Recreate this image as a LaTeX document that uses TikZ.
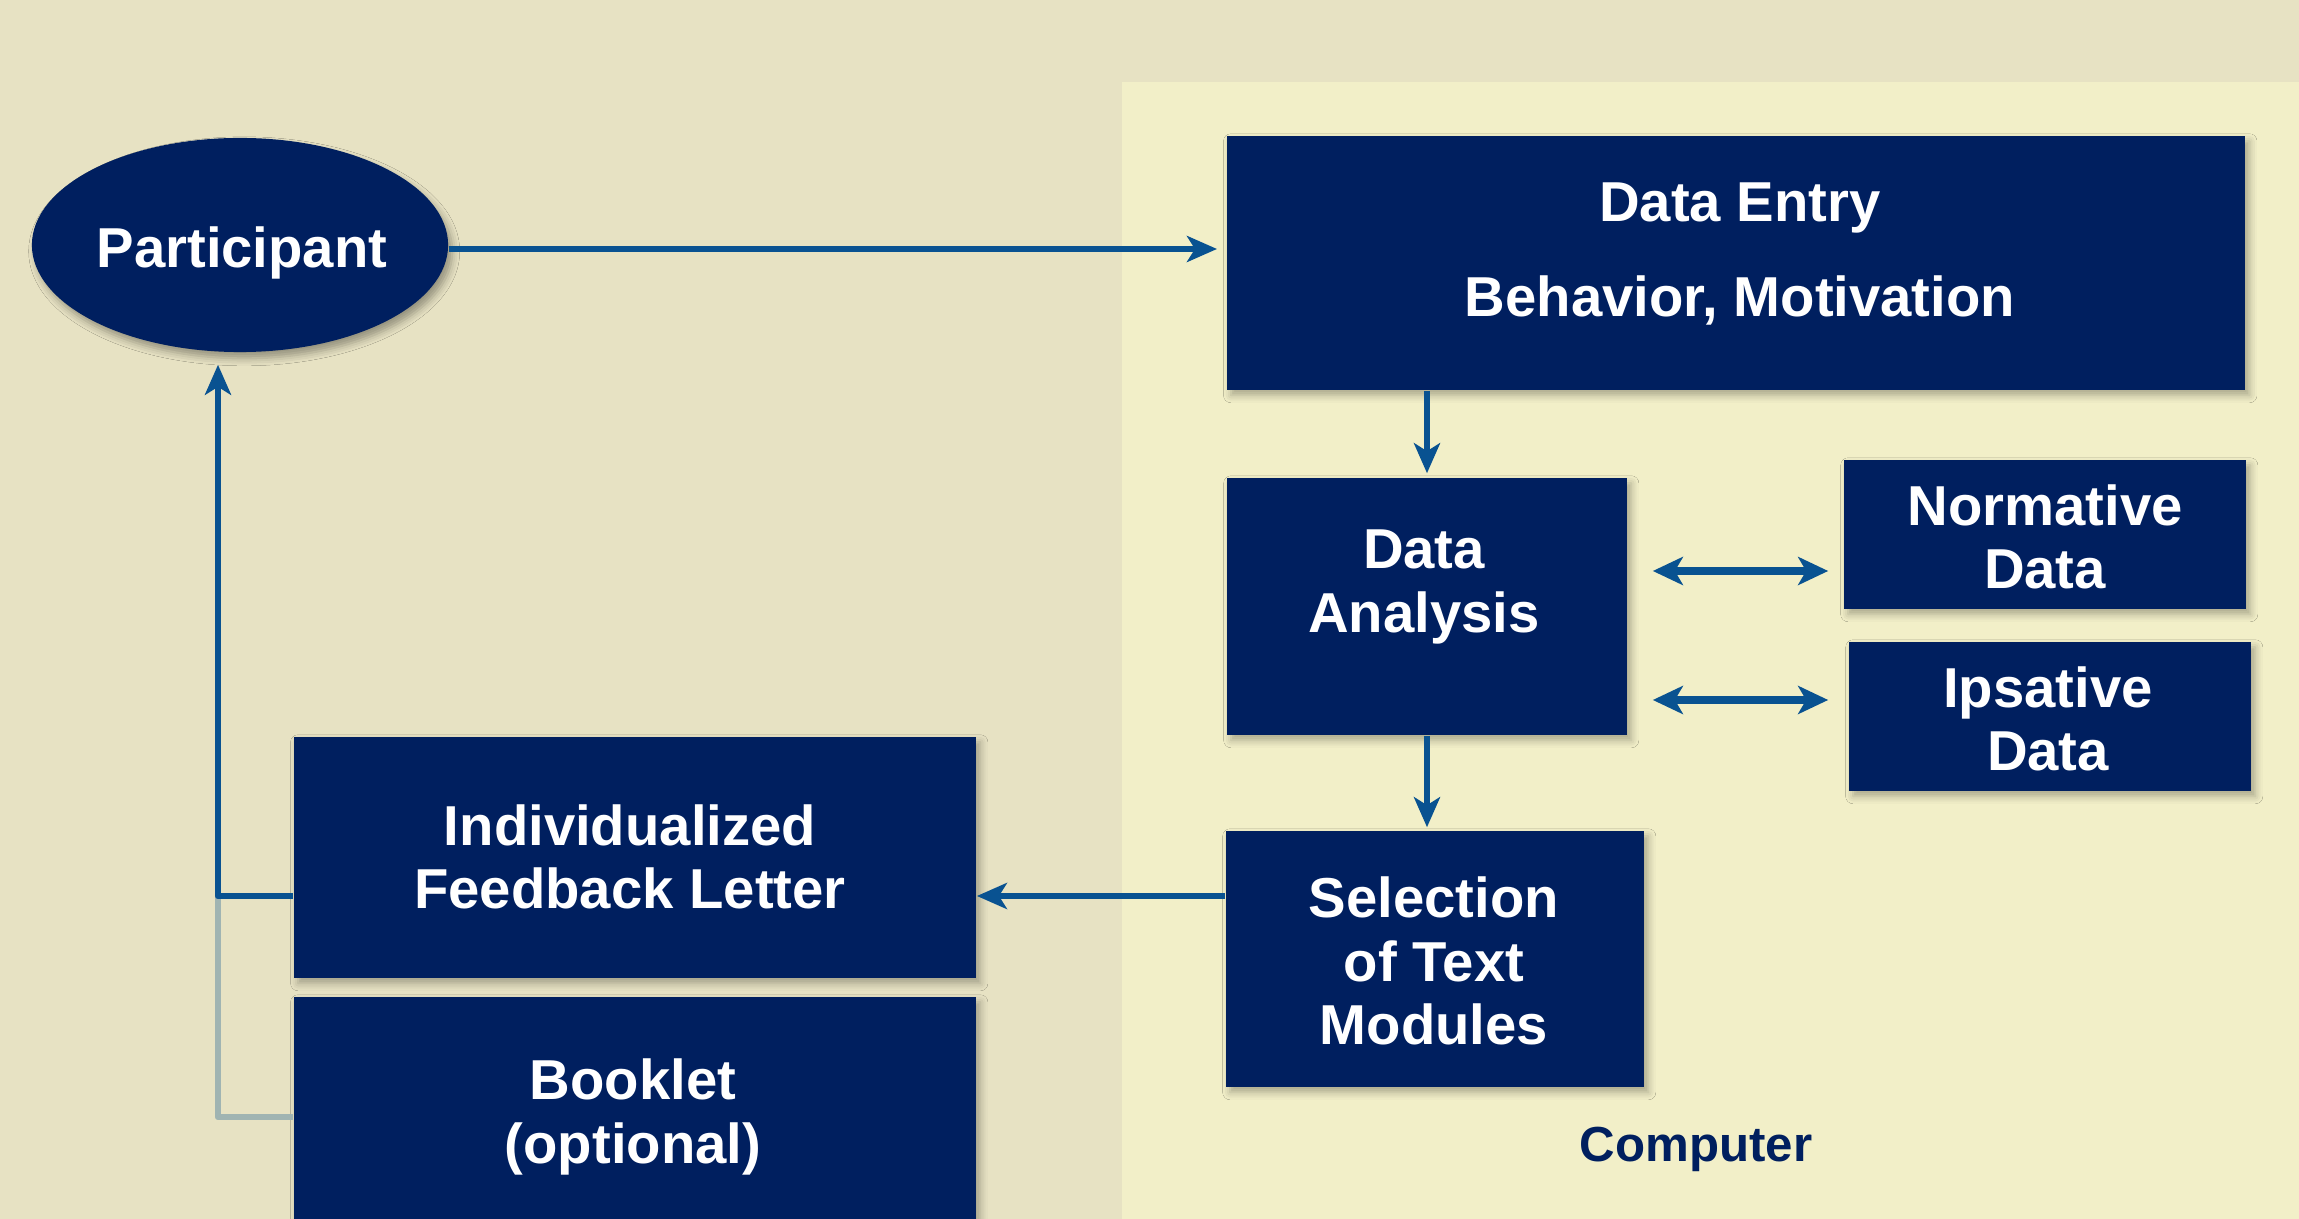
\documentclass[tikz,border=0pt]{standalone}
\usepackage{fontspec}
\setmainfont{Liberation Sans}
\usetikzlibrary{arrows.meta,shadows.blur,shapes.geometric}
\definecolor{bgleft}{RGB}{231,226,195}
\definecolor{bgright}{RGB}{242,239,200}
\definecolor{navy}{RGB}{0,31,95}
\definecolor{arrowblue}{RGB}{9,82,145}
\definecolor{greyline}{RGB}{160,180,178}
\tikzset{
  boxshape/.style={fill=navy, draw=none, rectangle, inner sep=0pt,
    blur shadow={shadow xshift=1.2pt, shadow yshift=-1.5pt, shadow blur steps=4, shadow opacity=30}},
  boxtext/.style={text=white, font=\fontsize{16}{18}\selectfont\bfseries, align=center, inner sep=0pt},
  flow/.style={draw=arrowblue, line width=1.8pt, -{Stealth[length=0.3cm,width=0.26cm,inset=0.08cm]}},
  twoway/.style={draw=arrowblue, line width=2.2pt,
    {Stealth[length=0.3cm,width=0.28cm,inset=0.08cm]}-{Stealth[length=0.3cm,width=0.28cm,inset=0.08cm]}},
  greyconn/.style={draw=greyline, line width=1.8pt},
}
\begin{document}
\begin{tikzpicture}[x=0.01cm,y=-0.01cm]
\useasboundingbox (0,0) rectangle (2299,1219);
\fill[bgleft] (0,0) rectangle (2299,1219);
\fill[bgright] (1122,82) rectangle (2299,1219);

% nodes
\node[ellipse, fill=navy, inner sep=0pt, minimum width=4.16cm, minimum height=2.14cm,
  blur shadow={shadow xshift=1.2pt, shadow yshift=-1.8pt, shadow blur steps=4, shadow opacity=35}] (part) at (240,245) {};
\node[boxtext] (partt) at (242,253) {Participant};

\node[boxshape, minimum width=10.18cm, minimum height=2.54cm] (de) at (1736,263) {};
\node[boxtext] (det) at (1740,254) {Data Entry\\[9pt]Behavior, Motivation};

\node[boxshape, minimum width=4.00cm, minimum height=2.57cm] (da) at (1427,606.5) {};
\node[boxtext] (dat) at (1424,587) {Data\\Analysis};

\node[boxshape, minimum width=4.02cm, minimum height=1.49cm] (norm) at (2045,534.5) {};
\node[boxtext] (normt) at (2045,537) {Normative\\Data};

\node[boxshape, minimum width=4.02cm, minimum height=1.49cm] (ips) at (2050,716.5) {};
\node[boxtext] (ipst) at (2048,719) {Ipsative\\Data};

\node[boxshape, minimum width=4.18cm, minimum height=2.56cm] (sel) at (1435,959) {};
\node[boxtext] (selt) at (1434,961) {Selection\\of Text\\Modules};

\node[boxshape, minimum width=6.82cm, minimum height=2.41cm] (fb) at (635,857.5) {};
\node[boxtext] (fbt) at (630,857) {Individualized\\Feedback Letter};

\node[boxshape, minimum width=6.82cm, minimum height=2.43cm] (bk) at (635,1118.5) {};
\node[boxtext] (bkt) at (633,1117) {Booklet\\(optional)};

\node[text=navy, font=\fontsize{14}{16}\selectfont\bfseries, inner sep=0pt] (comp) at (1696,1149) {Computer};

% helper coordinates
\coordinate (fy) at (0,896);
\coordinate (by) at (0,1117);
\coordinate (lx) at (218,0);
\coordinate (ya) at (0,571);
\coordinate (yb) at (0,700);

% connectors
\draw[flow, shorten >=0.09cm] ([yshift=-0.04cm]part.east) -- ([yshift=-0.04cm]part.east -| de.west);
\draw[flow, shorten >=0.04cm] (de.south -| da.north) -- (da.north);
\draw[flow, shorten >=0.03cm] (da.south) -- (da.south |- sel.north);
\draw[twoway, shorten <=0.25cm, shorten >=0.15cm] (da.east |- ya) -- (norm.west |- ya);
\draw[twoway, shorten <=0.25cm, shorten >=0.20cm] (da.east |- yb) -- (ips.west |- yb);
\draw[flow] (sel.west |- fy) -- (fb.east |- fy);
\draw[greyconn, line join=round] (bk.west |- by) -| (lx |- fy);
\draw[flow, shorten >=0.12cm, line join=round] (fb.west |- fy) -| (lx |- part.south);
\end{tikzpicture}
\end{document}
